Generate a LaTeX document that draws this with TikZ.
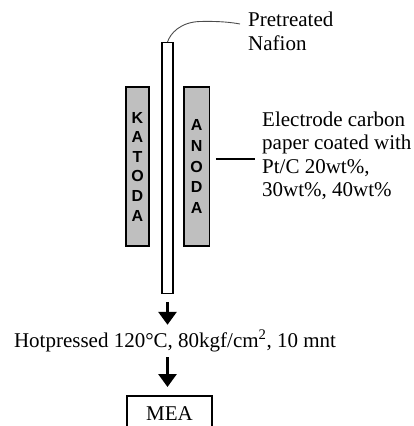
\documentclass[tikz,border=0pt]{standalone}
\usepackage{fontspec}
\setmainfont{Liberation Serif}
\setsansfont{Liberation Sans}
\usetikzlibrary{arrows.meta}
\begin{document}
\begin{tikzpicture}[x=1pt,y=-1pt,
  txt/.style={font=\fontsize{21}{23.5}\selectfont, inner sep=0pt, align=left},
  electrode/.style={draw, line width=1.6pt, fill=black!25, inner sep=0pt,
    font=\fontsize{16}{19.6}\selectfont\sffamily\bfseries, align=center},
  membrane/.style={draw, line width=1.4pt, fill=white, inner sep=0pt},
  leader/.style={line width=1.4pt},
  curveleader/.style={line width=0.9pt, black!70},
  bigarrow/.style={line width=3pt, -{Triangle[width=18pt,length=13pt]}},
  mebox/.style={draw, line width=1.5pt, inner sep=0pt, minimum width=85pt, minimum height=36pt,
    font=\fontsize{21}{23}\selectfont}
]
\useasboundingbox (0,0) rectangle (414,426);
\clip (0,0) rectangle (414,426);

\node[electrode, minimum width=23pt, minimum height=159pt] (katoda) at (137.5,166.5) {K\\A\\T\\O\\D\\A};
\node[electrode, minimum width=25.5pt, minimum height=159pt,
  font=\fontsize{16}{20.8}\selectfont\sffamily\bfseries] (anoda) at (196.7,166.5) {A\\N\\O\\D\\A};
\node[membrane, minimum width=11pt, minimum height=250.5pt] (nafion) at (167.5,168) {};

\node[txt, anchor=west, font=\fontsize{21}{24}\selectfont] (pret) at (248,31.5) {Pretreated\\Nafion};
\node[txt, anchor=west] (elec) at (262,156) {Electrode carbon\\paper coated with\\Pt/C 20wt\%,\\30wt\%, 40wt\%};

\node[txt, text height=14pt, text depth=5pt, anchor=center] (hot) at (175,343)
  {Hotpressed 120\textdegree C, 80kgf/cm\textsuperscript{2}, 10 mnt};
\node[mebox, anchor=north] (mea) at (169.5,395) {MEA};

\draw[curveleader] (nafion.north) .. controls (170,34) and (180,22) .. (200,21.5)
  .. controls (220,21) and (232,22.5) .. ([xshift=-8pt,yshift=7.5pt]pret.west);
\draw[leader] ([xshift=5.5pt,yshift=7.5pt]anoda.east) -- ([xshift=-7pt,yshift=-3pt]elec.west);

\draw[bigarrow] ([yshift=-8pt]nafion.south) -- ([yshift=8.5pt]nafion.south |- hot.north);
\draw[bigarrow] ([yshift=-4.5pt]nafion.south |- hot.south) -- ([yshift=8pt]nafion.south |- mea.north);
\end{tikzpicture}
\end{document}
